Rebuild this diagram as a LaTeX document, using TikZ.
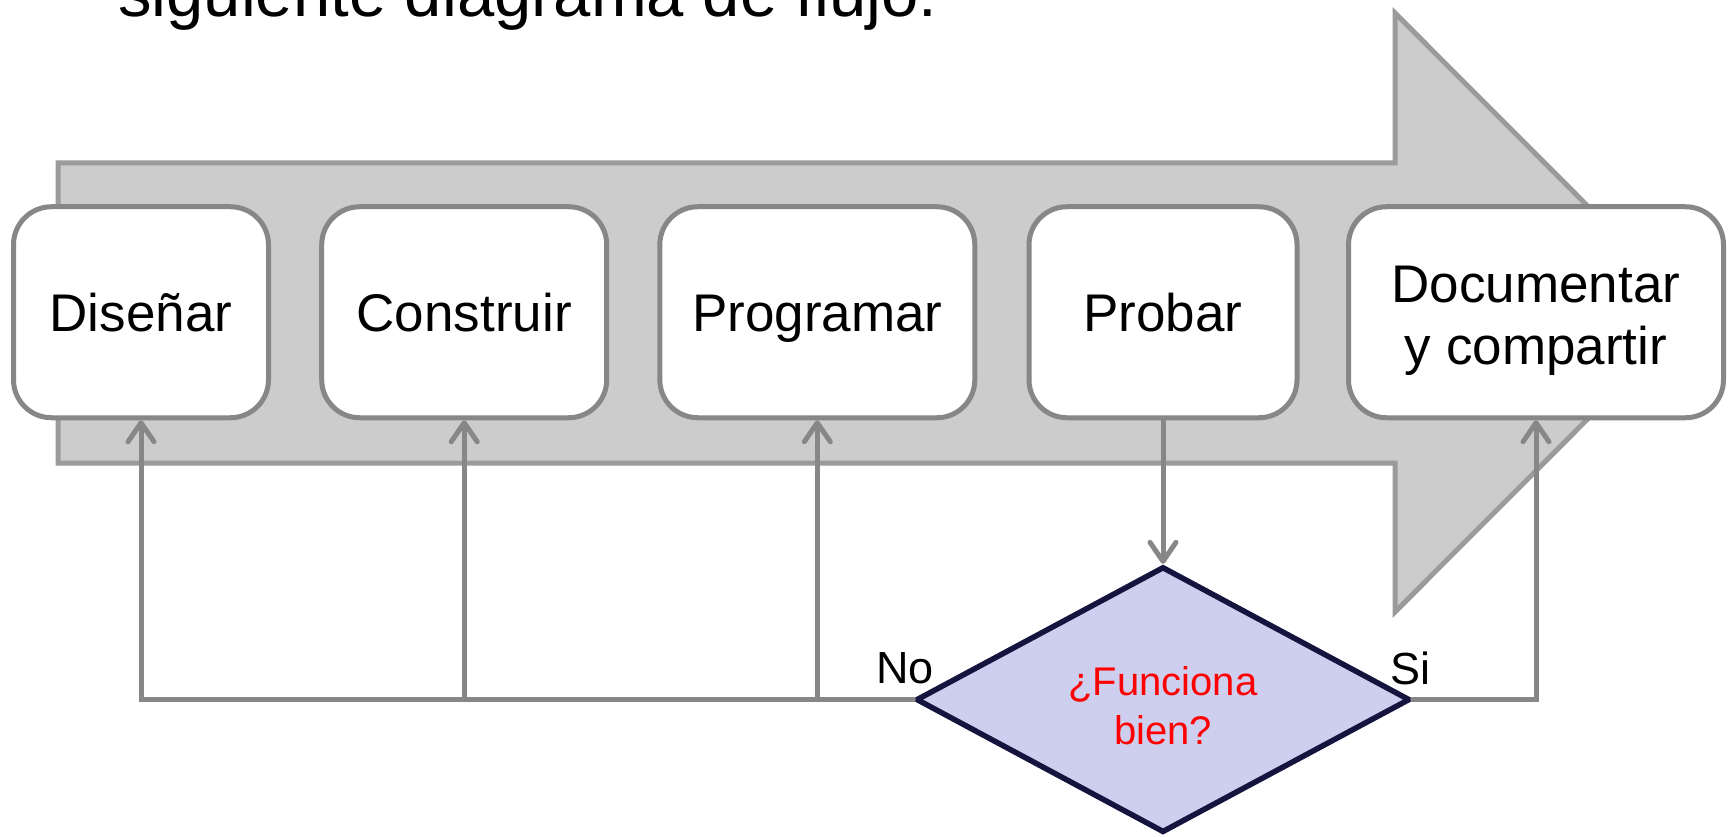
\documentclass[tikz,border=0pt]{standalone}
\usepackage{fontspec}
\setmainfont{Liberation Sans}
\usetikzlibrary{shapes.geometric,arrows.meta,calc}
\definecolor{boxline}{HTML}{878787}
\definecolor{bandfill}{HTML}{CCCCCC}
\definecolor{bandline}{HTML}{9B9B9B}
\definecolor{connline}{HTML}{878787}
\definecolor{decfill}{HTML}{CECEEE}
\definecolor{decline}{HTML}{14143F}
\definecolor{decred}{HTML}{FF0000}
\tikzset{
  stagefont/.style={font=\fontsize{53}{62}\selectfont},
  stagebox/.style={draw=boxline, line width=5pt, fill=white, rounded corners=38pt,
    minimum height=211pt, inner sep=0pt, align=center, stagefont,
    text height=38pt, text depth=0pt},
  band/.style={draw=bandline, fill=bandfill, line width=5pt, line join=miter},
  conn/.style={draw=connline, line width=5pt, line cap=round},
  flowarrow/.style={conn, -{Straight Barb[length=19pt,width=26pt,round]}},
  decision/.style={diamond, draw=decline, fill=decfill, line width=5.5pt,
    minimum width=494pt, minimum height=266pt, inner sep=0pt},
  dectext/.style={align=center, text=decred, inner sep=0pt,
    font=\fontsize{40}{49}\selectfont},
  branchlabel/.style={font=\fontsize{45}{50}\selectfont, inner sep=0pt}
}
\begin{document}
\begin{tikzpicture}[x=1pt,y=-1pt]
\useasboundingbox (0,0) rectangle (1733,837);

% heading line, only its lower part lies inside the page
\node[anchor=base west, inner sep=0pt, font=\fontsize{67}{74}\selectfont]
  (heading) at (118,17) {siguiente diagrama de flujo:};

% broad process arrow behind the stages
\draw[band] (58,163) -- (1395,163) -- (1395,13) -- (1694,312.5)
  -- (1395,612) -- (1395,463) -- (58,463) -- cycle;

% stages
\node[stagebox, minimum width=255pt] (dis) at (141,312.25) {Diseñar};
\node[stagebox, minimum width=285pt] (con) at (464.2,312.25) {Construir};
\node[stagebox, minimum width=315pt] (pro) at (817.3,312.25) {Programar};
\node[stagebox, minimum width=268pt] (prb) at (1163,312.25) {Probar};
\node[stagebox, minimum width=375pt] (doc) at (1536,312.25) {};
\node[stagefont, align=center, inner sep=0pt] (doctext) at ($(doc.center)+(0,9)$)
  {Documentar\\y compartir};

% decision
\node[decision] (dec) at (1163,699.6) {};
\node[dectext] (dectxt) at ($(dec.center)+(0,6)$) {¿Funciona\\bien?};

\node[branchlabel] (no) at (905,668) {No};
\node[branchlabel] (si) at (1410,668) {Si};

% connectors
\draw[flowarrow] (prb.south) -- (dec.north);
\draw[flowarrow] (dec.west) -| (dis.south);
\draw[flowarrow] (dec.west -| con.south) -- (con.south);
\draw[flowarrow] (dec.west -| pro.south) -- (pro.south);
\draw[flowarrow] (dec.east) -| (doc.south);
\end{tikzpicture}
\end{document}
